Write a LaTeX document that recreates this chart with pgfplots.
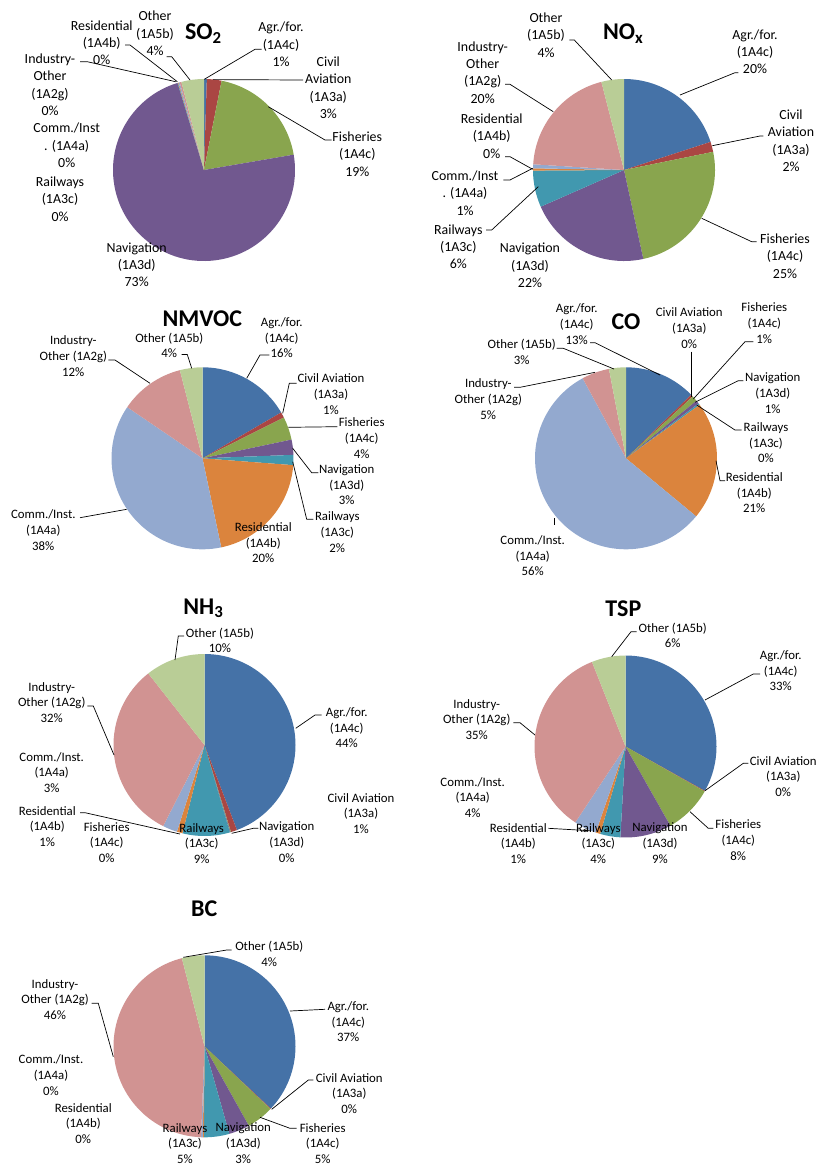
\documentclass[border=0pt]{standalone}
\usepackage{pgfplots}
\usepackage{pgfplotstable}
\pgfplotsset{compat=1.18}
\usepackage{fontspec}
\setmainfont{Carlito}

\definecolor{s1}{HTML}{4572A7}
\definecolor{s2}{HTML}{AA4643}
\definecolor{s3}{HTML}{89A54E}
\definecolor{s4}{HTML}{71588F}
\definecolor{s5}{HTML}{4198AF}
\definecolor{s6}{HTML}{DB843D}
\definecolor{s7}{HTML}{93A9CF}
\definecolor{s8}{HTML}{D19392}
\definecolor{s9}{HTML}{B9CD96}

% shares in %, rows: Agr./for., Civil Aviation, Fisheries, Navigation,
% Railways, Residential, Comm./Inst., Industry-Other, Other
\pgfplotstableread{
so2  nox  nmvoc co   nh3  tsp  bc
0.5  20.0 16.6 12.7 44.2 33.1 37.0
2.6  1.8  1.0  0.4  1.1  0.1  0.1
19.2 24.8 4.1  1.0  0.1  8.6  4.8
73.0 21.8 2.7  0.6  0.1  9.1  3.7
0.1  6.5  1.8  0.3  8.4  3.6  4.5
0.1  0.4  20.5 21.0 1.0  0.8  0.2
0.2  0.7  37.8 56.1 2.6  4.0  0.3
0.3  20.0 11.5 4.9  31.9 34.7 45.4
4.0  4.0  4.0  3.0  10.6 6.0  4.0
}\shares

% #1,#2 centre in px from top left, #3 column, #4 radius
\newcommand{\pie}[4]{%
\begin{axis}[at={(#1pt,-#2pt)}, anchor=center, hide axis, clip=false,
  x=#4pt, y=#4pt, xmin=-1, xmax=1, ymin=-1, ymax=1]
  \gdef\cum{0}
  \foreach \i in {0,...,8}{
    \pgfplotstablegetelem{\i}{#3}\of\shares
    \pgfmathsetmacro\ca{90-3.6*\cum}
    \pgfmathsetmacro\newcum{\cum+\pgfplotsretval}
    \xdef\cum{\newcum}
    \pgfmathsetmacro\cb{90-3.6*\cum}
    \pgfmathsetmacro\sx{cos(\ca)}
    \pgfmathsetmacro\sy{sin(\ca)}
    \pgfmathtruncatemacro\k{\i+1}
    \edef\temp{\noexpand\fill[s\k] (axis cs:0,0) -- (axis cs:\sx,\sy)
      arc[start angle=\ca, end angle=\cb, radius=#4pt] -- cycle;}
    \temp
  }
\end{axis}}

\begin{document}
\begin{tikzpicture}
\useasboundingbox (0pt,0pt) rectangle (821pt,-1165pt);

\pie{204}{170}{so2}{91}
\pie{624}{170}{nox}{91}
\pie{202.5}{458.3}{nmvoc}{91}
\pie{626}{458.3}{co}{91}
\pie{204.5}{745}{nh3}{91}
\pie{625.5}{746.5}{tsp}{91}
\pie{204.5}{1046.3}{bc}{91}

\begin{scope}[x=1pt, y=-1pt,
  la/.style={align=center, inner sep=0pt, font=\fontsize{13.9}{17.3}\selectfont},
  lb/.style={align=center, inner sep=0pt, font=\fontsize{12.8}{15.7}\selectfont},
  tt/.style={inner sep=0pt, font=\fontsize{24}{28}\selectfont\bfseries},
  ld/.style={black, line width=0.7pt}]

% SO2
\node[tt] at (203.3,33.3) {SO\textsubscript{2}};
\node[la] at (281,44.3) {Agr./for.\\(1A4c)\\1\%};
\draw[ld] (261.7,49.3) -- (255,49.3) -- (204.3,79.3);
\node[la] at (328.3,87.7) {Civil\\Aviation\\(1A3a)\\3\%};
\draw[ld] (303,80) -- (213,79.6);
\node[la] at (357.3,154) {Fisheries\\(1A4c)\\19\%};
\draw[ld] (331.7,140) -- (325,140) -- (268.3,106.7);
\node[la] at (136.7,264.7) {Navigation\\(1A3d)\\73\%};
\node[la] at (60,199) {Railways\\(1A3c)\\0\%};
\node[la] at (66.7,145.3) {Comm./Inst\\. (1A4a)\\0\%};
\node[la] at (50,84.7) {Industry-\\Other\\(1A2g)\\0\%};
\draw[ld] (80,61.7) -- (87.3,61.7) -- (175.7,81.7);
\node[la] at (101.7,42.7) {Residential\\(1A4b)\\0\%};
\draw[ld] (125,45) -- (130,45) -- (177.3,81.7);
\node[la] at (155,33.3) {Other\\(1A5b)\\4\%};
\draw[ld] (166.7,56.7) -- (171.7,56.7) -- (190,80);

% NOx
\node[tt] at (623.3,33.3) {NO\textsubscript{x}};
\node[la] at (755,51.7) {Agr./for.\\(1A4c)\\20\%};
\draw[ld] (738.3,72.7) -- (735,72.7) -- (680,95);
\node[la] at (791,140.7) {Civil\\Aviation\\(1A3a)\\2\%};
\draw[ld] (763.3,136) -- (760,136) -- (712.3,145.7);
\node[la] at (785,256) {Fisheries\\(1A4c)\\25\%};
\draw[ld] (756.7,241.7) -- (751.7,241.7) -- (701.7,218.3);
\node[la] at (530,265.3) {Navigation\\(1A3d)\\22\%};
\node[la] at (458.3,246.7) {Railways\\(1A3c)\\6\%};
\draw[ld] (486,230) -- (491.7,230) -- (538.3,186.7);
\node[la] at (465,193) {Comm./Inst\\. (1A4a)\\1\%};
\draw[ld] (503.3,180) -- (510,180) -- (532.7,168.3);
\node[la] at (491.7,136) {Residential\\(1A4b)\\0\%};
\draw[ld] (505,156.7) -- (510,156.7) -- (532.7,169.3);
\node[la] at (482.7,72.3) {Industry-\\Other\\(1A2g)\\20\%};
\draw[ld] (505,84.3) -- (510,84.3) -- (553.3,111.7);
\node[la] at (546,35) {Other\\(1A5b)\\4\%};
\draw[ld] (569.3,40) -- (574.3,40) -- (611.7,80);

% NMVOC
\node[tt] at (202.3,318.5) {NMVOC};
\node[lb] at (281.7,337.7) {Agr./for.\\(1A4c)\\16\%};
\draw[ld] (269.3,355) -- (260,355) -- (246.7,378.3);
\node[lb] at (331,394.3) {Civil Aviation\\(1A3a)\\1\%};
\draw[ld] (296.7,383.3) -- (289.3,383.3) -- (282.7,413.3);
\node[lb] at (361.7,438.3) {Fisheries\\(1A4c)\\4\%};
\draw[ld] (337.3,426.7) -- (288.3,427.3);
\node[lb] at (346.7,484.7) {Navigation\\(1A3d)\\3\%};
\draw[ld] (318.3,472.7) -- (311.7,472.7) -- (292.7,448.3);
\node[lb] at (337.3,532.3) {Railways\\(1A3c)\\2\%};
\draw[ld] (313.3,519.3) -- (306.7,519.3) -- (292.7,461.7);
\node[lb] at (263.3,542.7) {Residential\\(1A4b)\\20\%};
\node[lb] at (43.3,530) {Comm./Inst.\\(1A4a)\\38\%};
\draw[ld] (80,517.7) -- (126.7,509.3);
\node[lb] at (73.3,356) {Industry-\\Other (1A2g)\\12\%};
\draw[ld] (108.3,360) -- (115,360) -- (150,383.3);
\node[lb] at (169.3,345.5) {Other (1A5b)\\4\%};
\draw[ld] (181.7,354.5) -- (187.3,354.5) -- (191.7,368.3);

% CO
\node[tt] at (626,321.7) {CO};
\node[lb] at (576.7,324.3) {Agr./for.\\(1A4c)\\13\%};
\draw[ld] (590,342.7) -- (595,342.7) -- (660,375);
\node[lb] at (689.3,328.3) {Civil Aviation\\(1A3a)\\0\%};
\draw[ld] (691.7,351.7) -- (691.7,396.7);
\node[lb] at (764.3,323.3) {Fisheries\\(1A4c)\\1\%};
\draw[ld] (753.3,341.7) -- (745,341.7) -- (693.3,399);
\node[lb] at (772.7,393.3) {Navigation\\(1A3d)\\1\%};
\draw[ld] (743.3,380.7) -- (738.3,380.7) -- (695,402.3);
\node[lb] at (766,442.7) {Railways\\(1A3c)\\0\%};
\draw[ld] (741.7,430) -- (735,430) -- (696.7,405);
\node[lb] at (754.3,492.7) {Residential\\(1A4b)\\21\%};
\draw[ld] (725,480.7) -- (720,480.7) -- (716,460.7);
\node[lb] at (532.7,555.7) {Comm./Inst.\\(1A4a)\\56\%};
\draw[ld] (554.3,518.3) -- (554.3,525);
\node[lb] at (488.3,399.3) {Industry-\\Other (1A2g)\\5\%};
\draw[ld] (514,387.3) -- (520,387.3) -- (595,372.3);
\node[lb] at (521.7,352) {Other (1A5b)\\3\%};
\draw[ld] (556.7,348.3) -- (563.3,348.3) -- (614,369);

% NH3
\node[tt] at (203.3,608.3) {NH\textsubscript{3}};
\node[lb] at (220,640.3) {Other (1A5b)\\10\%};
\draw[ld] (184,636) -- (178.3,636) -- (175,660);
\node[lb] at (346.7,727.7) {Agr./for.\\(1A4c)\\44\%};
\draw[ld] (321.7,715) -- (315,715) -- (295.7,728.3);
\node[lb] at (361,813.3) {Civil Aviation\\(1A3a)\\1\%};
\node[lb] at (286.7,842.3) {Navigation\\(1A3d)\\0\%};
\draw[ld] (258.3,828.3) -- (253.3,828.3) -- (231.7,833.3);
\node[lb] at (201.7,843.3) {Railways\\(1A3c)\\9\%};
\node[lb] at (106.7,842.3) {Fisheries\\(1A4c)\\0\%};
\node[lb] at (47.3,826.3) {Residential\\(1A4b)\\1\%};
\draw[ld] (80,812.7) -- (85,812.7) -- (180,834);
\node[lb] at (51.7,772.3) {Comm./Inst.\\(1A4a)\\3\%};
\node[lb] at (51.7,702.3) {Industry-\\Other (1A2g)\\32\%};
\draw[ld] (87.3,706) -- (93.3,706) -- (114,755);

% TSP
\node[tt] at (623.3,608.3) {TSP};
\node[lb] at (672.7,635.3) {Other (1A5b)\\6\%};
\draw[ld] (636.7,631.7) -- (631,631.7) -- (611.7,656.7);
\node[lb] at (780.7,670.7) {Agr./for.\\(1A4c)\\33\%};
\draw[ld] (760,674) -- (753.3,674) -- (705,700);
\node[lb] at (783.3,776.3) {Civil Aviation\\(1A3a)\\0\%};
\draw[ld] (748.3,763.3) -- (743.3,763.3) -- (705,790.7);
\node[lb] at (738.3,840) {Fisheries\\(1A4c)\\8\%};
\draw[ld] (713.3,828.3) -- (708.3,828.3) -- (690,811.7);
\node[lb] at (660,843.3) {Navigation\\(1A3d)\\9\%};
\node[lb] at (598.3,843.3) {Railways\\(1A3c)\\4\%};
\node[lb] at (518.3,843.3) {Residential\\(1A4b)\\1\%};
\draw[ld] (548.3,828.3) -- (590,830.7);
\node[lb] at (472.7,797.3) {Comm./Inst.\\(1A4a)\\4\%};
\node[lb] at (476.7,719.3) {Industry-\\Other (1A2g)\\35\%};
\draw[ld] (513.3,722.7) -- (520,722.7) -- (535,735);

% BC
\node[tt] at (204.3,908.3) {BC};
\node[lb] at (269.3,954) {Other (1A5b)\\4\%};
\draw[ld] (231.7,950) -- (226.7,950) -- (183.3,957.3);
\node[lb] at (348.3,1021.7) {Agr./for.\\(1A4c)\\37\%};
\draw[ld] (325,1009.3) -- (290,1011);
\node[lb] at (349.3,1093.3) {Civil Aviation\\(1A3a)\\0\%};
\draw[ld] (313.3,1080) -- (308.3,1080) -- (271.7,1109.3);
\node[lb] at (322.7,1143.3) {Fisheries\\(1A4c)\\5\%};
\draw[ld] (296.7,1128.3) -- (290,1128.3) -- (260,1117.3);
\node[lb] at (243.3,1143.3) {Navigation\\(1A3d)\\3\%};
\node[lb] at (185,1143.3) {Railways\\(1A3c)\\5\%};
\node[lb] at (83.3,1123.3) {Residential\\(1A4b)\\0\%};
\node[lb] at (51,1075) {Comm./Inst.\\(1A4a)\\0\%};
\node[lb] at (55,999.3) {Industry-\\Other (1A2g)\\46\%};
\draw[ld] (91.7,1003.3) -- (98.3,1003.3) -- (113.3,1056.7);
\end{scope}
\end{tikzpicture}
\end{document}
